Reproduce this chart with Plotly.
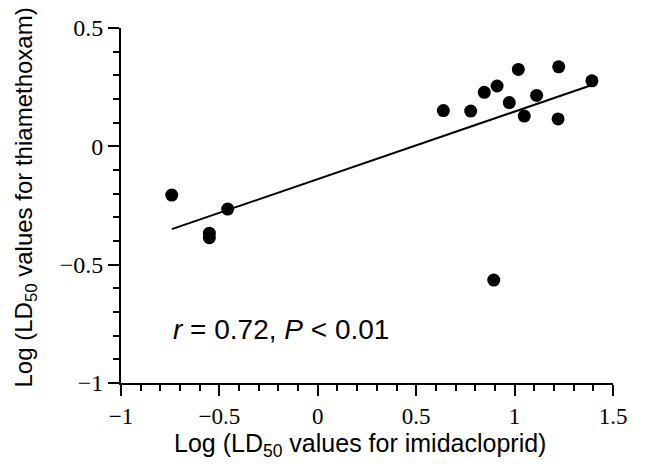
import plotly.graph_objects as go

# Data
imidacloprid_log = [-0.742, -0.551, -0.551, -0.458, 0.638, 0.777, 0.846, 0.911,
                    1.019, 0.973, 1.112, 1.049, 1.224, 1.221, 1.393, 0.894]
thiamethoxam_log = [-0.206, -0.367, -0.386, -0.265, 0.151, 0.149, 0.228, 0.255,
                    0.325, 0.185, 0.215, 0.128, 0.336, 0.116, 0.277, -0.565]
fit_x = [-0.742, 1.393]
fit_y = [-0.350, 0.259]
stats_text = "<i>r</i> = 0.72, <i>P</i> < 0.01"
x_title = "Log (LD<sub>50</sub> values for imidacloprid)"
y_title = "Log (LD<sub>50</sub> values for thiamethoxam)"

sans = "Liberation Sans, Arial"
serif = "Liberation Serif, Times New Roman"

fig = go.Figure()
fig.add_trace(go.Scatter(x=fit_x, y=fit_y, mode="lines",
                         line=dict(color="black", width=2), showlegend=False))
fig.add_trace(go.Scatter(x=imidacloprid_log, y=thiamethoxam_log, mode="markers",
                         marker=dict(color="black", size=13), showlegend=False))

fig.add_annotation(x=-0.745, y=-0.772, xref="x", yref="y", text=stats_text,
                   showarrow=False, xanchor="left", yanchor="middle",
                   font=dict(family=sans, size=28, color="black"))
fig.add_annotation(x=0.5, y=0, xref="paper", yref="paper", text=x_title,
                   showarrow=False, xanchor="center", yanchor="middle",
                   xshift=-7, yshift=-62,
                   font=dict(family=sans, size=25, color="black"))
fig.add_annotation(x=0, y=0.5, xref="paper", yref="paper", text=y_title,
                   showarrow=False, xanchor="center", yanchor="middle", textangle=-90,
                   xshift=-96, yshift=8,
                   font=dict(family=sans, size=24, color="black"))

axis_common = dict(
    showgrid=False, zeroline=False, showline=True, linecolor="black", linewidth=2,
    ticks="outside", ticklen=11, tickwidth=2, tickcolor="black", automargin=False,
    minor=dict(ticks="outside", ticklen=6, tickwidth=1.5, tickcolor="black", dtick=0.1),
)

fig.update_xaxes(range=[-1, 1.5], dtick=0.5, tick0=0, **axis_common)
fig.update_yaxes(range=[-1, 0.5], dtick=0.5, tick0=0, **axis_common)
fig.update_xaxes(tickfont=dict(family=serif, size=23, color="black"))
fig.update_yaxes(tickfont=dict(family=serif, size=24, color="black"))

fig.update_layout(width=645, height=464, margin=dict(l=121, r=32, t=28, b=81),
                  plot_bgcolor="white", paper_bgcolor="white",
                  font=dict(family=serif, size=24, color="black"))

fig.write_html("out.html", config={"displayModeBar": False},
               post_script="document.body.style.margin='0';")
